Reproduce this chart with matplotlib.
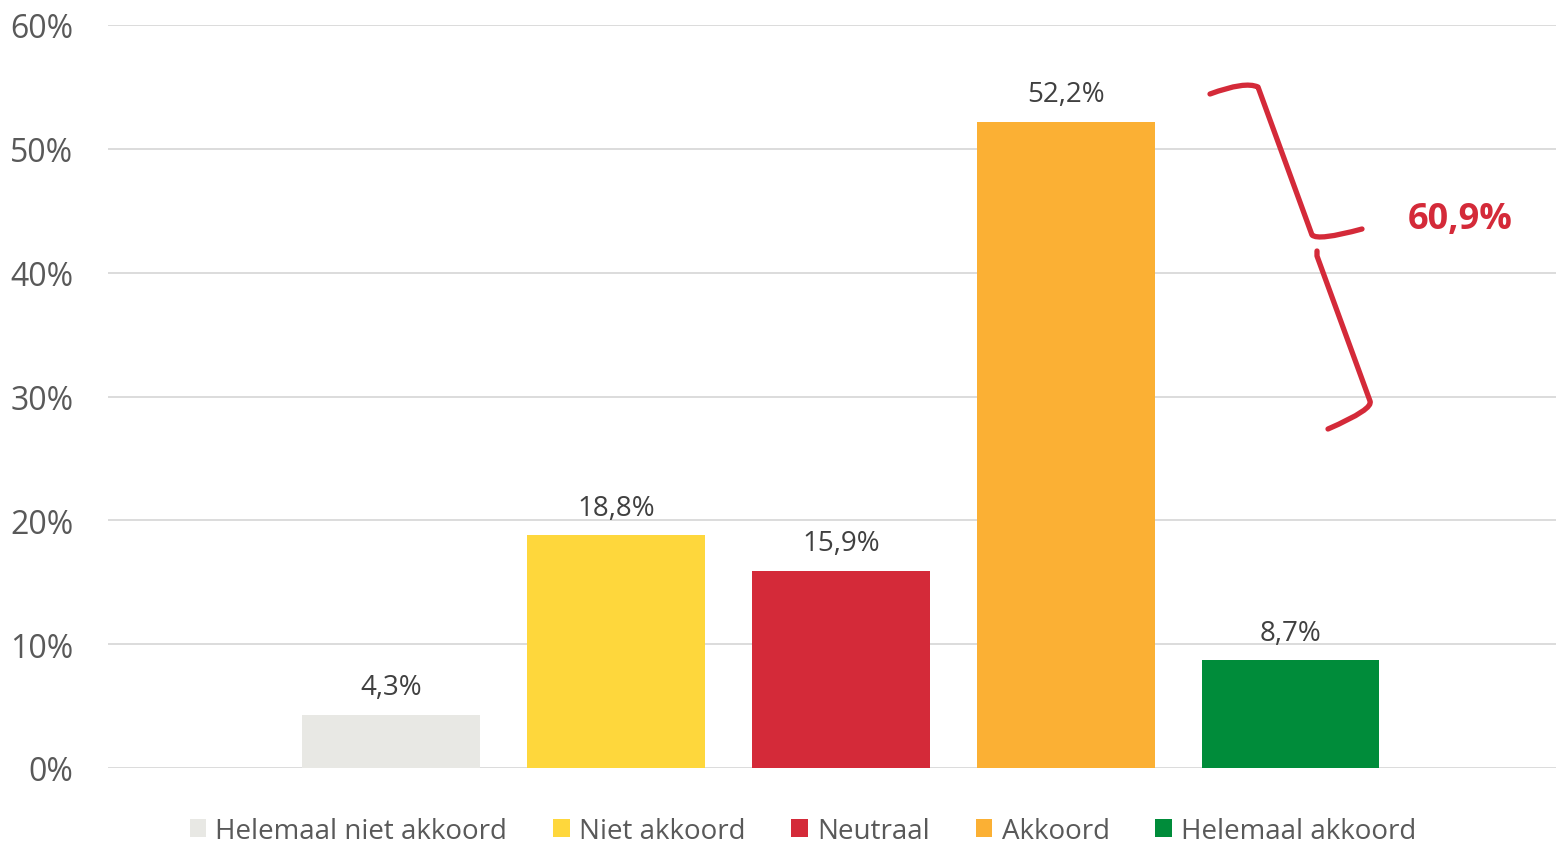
import matplotlib
matplotlib.use("Agg")
import matplotlib.pyplot as plt
from matplotlib.patches import Patch, PathPatch
from matplotlib.path import Path

# Data
categories = ["Helemaal niet akkoord", "Niet akkoord", "Neutraal", "Akkoord", "Helemaal akkoord"]
values = [4.3, 18.8, 15.9, 52.2, 8.7]
colors = ["#E8E8E4", "#FED73C", "#D42A39", "#FBB034", "#008C3A"]
y_ticks = [0, 10, 20, 30, 40, 50, 60]
combined_label = "60,9%"

plt.rcParams['font.family'] = ['Open Sans', 'DejaVu Sans']
text_color = "#595959"

fig = plt.figure(figsize=(15.56, 8.45), dpi=100)
ax = fig.add_axes([108 / 1556, 1 - 769 / 845, 1 - 108 / 1556, (769 - 26) / 845])

x = list(range(len(values)))
bars = ax.bar(x, values, width=0.79, color=colors, zorder=3)

for xi, v in zip(x, values):
    ax.text(xi, v + 1.1, f"{v:.1f}%".replace(".", ","), ha="center", va="bottom",
            fontsize=20, color="#404040")

ax.set_xlim(-1.26, 5.18)
ax.set_ylim(0, 60)
ax.set_yticks(y_ticks)
ax.set_yticklabels([f"{t}%" for t in y_ticks], fontsize=23, color=text_color)
ax.set_xticks([])
ax.grid(axis="y", color="#D9D9D9", linewidth=1.3, zorder=0)
ax.tick_params(axis="y", length=0, pad=25)
for s in ax.spines.values():
    s.set_visible(False)

# Legend
handles = [Patch(facecolor=c, edgecolor="none") for c in colors]
fig.legend(handles, categories, loc="center", bbox_to_anchor=(803 / 1556, 1 - 832 / 845),
           ncol=5, frameon=False, fontsize=20, labelcolor=text_color,
           handlelength=0.6, handleheight=0.6, handletextpad=0.33, columnspacing=1.65)

# Curly brace annotation (figure pixel coordinates, smoothed corners)
def fp(px, py):
    return (px / 1556, 1 - py / 845)

brace_halves = [
    ([(1210, 95), (1245, 82), (1258, 88), (1312, 236), (1318, 242), (1362, 230)],
     [Path.MOVETO, Path.CURVE3, Path.CURVE3, Path.LINETO, Path.CURVE3, Path.CURVE3]),
    ([(1317, 252), (1317, 257), (1370, 402), (1374, 410), (1328, 430)],
     [Path.MOVETO, Path.LINETO, Path.LINETO, Path.CURVE3, Path.CURVE3]),
]
for pts, codes in brace_halves:
    path = Path([fp(*p) for p in pts], codes)
    fig.add_artist(PathPatch(path, transform=fig.transFigure, facecolor="none",
                             edgecolor="#D42A39", linewidth=3.8,
                             capstyle="round", joinstyle="round"))
fig.text(1460 / 1556, 1 - 220 / 845, combined_label, ha="center", va="center",
         fontsize=26, fontweight="bold", color="#D42A39")

fig.savefig("out.png", dpi=100)
